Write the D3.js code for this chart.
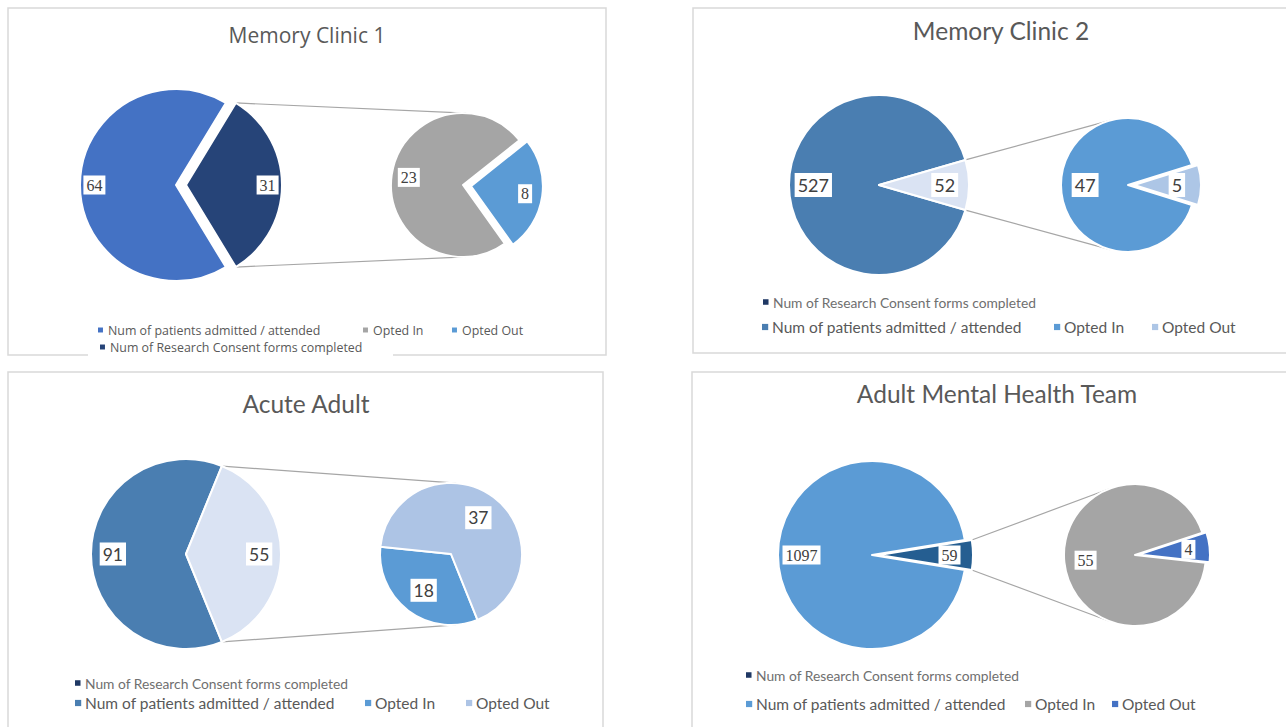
<!DOCTYPE html>
<html>
<head>
<meta charset="utf-8">
<script src="https://cdn.jsdelivr.net/npm/d3@7"></script>
<style>
  body { margin: 0; background: #fff; }
</style>
</head>
<body>
<script>
// chart data
var titles = ["Memory Clinic 1", "Memory Clinic 2", "Acute Adult", "Adult Mental Health Team"];
var mainNames = ["Num of patients admitted / attended", "Num of Research Consent forms completed"];
var subNames = ["Opted In", "Opted Out"];

var clinic1Main = [64, 31],   clinic1Sub = [23, 8];
var clinic2Main = [527, 52],  clinic2Sub = [47, 5];
var acuteMain = [91, 55],     acuteSub = [18, 37];
var amhtMain = [1097, 59],    amhtSub = [55, 4];

// layout / style per panel
var panels = [
  { title: titles[0], main: clinic1Main, sub: clinic1Sub,
    box: [8, 8, 598, 347], titleX: 307, titleY: 35, titleSize: 21, titleFont: "Open Sans",
    mainC: [176, 185], mainR: 96, mainExplode: 10,
    subC: [463, 185], subR: 72, subFocus: 1, subAngle: 98, subExplode: 8,
    mainColors: ["#4472c4", "#264478"], subColors: ["#a5a5a5", "#5b9bd5"], consentColor: "#264478",
    labelFont: "Liberation Serif", labelSize: 16, labelFrac: [0.85, 0.76],
    legendFont: "Open Sans", legendGap: 10, cover: [88, 339, 305, 22],
    legend: [["admitted", 98, 330, 12.4], ["in", 363, 330, 12.4], ["out", 452, 330, 12.4], ["consent", 100, 347, 12.4]] },
  { title: titles[1], main: clinic2Main, sub: clinic2Sub,
    box: [693, 8, 620, 345], titleX: 1001, titleY: 30, titleSize: 24.5, titleFont: "Lato",
    mainC: [879, 185], mainR: 90, mainExplode: 0,
    subC: [1128, 185], subR: 67, subFocus: 1, subAngle: 90, subExplode: 6,
    mainColors: ["#4a7eb1", "#dae3f3"], subColors: ["#5b9bd5", "#adc6e6"], consentColor: "#1f3864",
    labelFont: "Lato", labelSize: 18, labelFrac: [0.73, 0.64],
    legendFont: "Lato", legendGap: 10,
    legend: [["consent", 763, 302, 13.8], ["admitted", 762, 327, 15.5], ["in", 1054, 327, 15.5], ["out", 1152, 327, 15.5]] },
  { title: titles[2], main: acuteMain, sub: acuteSub,
    box: [8, 372, 595, 400], titleX: 306, titleY: 403, titleSize: 24.5, titleFont: "Lato",
    mainC: [186, 554], mainR: 95, mainExplode: 0,
    subC: [451, 554], subR: 71, subFocus: 0, subAngle: 217, subExplode: 0,
    mainColors: ["#4a7eb1", "#dae3f3"], subColors: ["#5b9bd5", "#adc4e5"], consentColor: "#1f3864",
    labelFont: "Lato", labelSize: 17.5, labelFrac: [0.77, 0.64],
    legendFont: "Lato", legendGap: 10,
    legend: [["consent", 75, 683, 13.8], ["admitted", 75, 703, 15.5], ["in", 365, 703, 15.5], ["out", 466, 703, 15.5]] },
  { title: titles[3], main: amhtMain, sub: amhtSub,
    box: [692, 372, 620, 400], titleX: 997, titleY: 393, titleSize: 24.5, titleFont: "Lato",
    mainC: [872, 555], mainR: 94, mainExplode: 7,
    subC: [1135, 555], subR: 71, subFocus: 1, subAngle: 84, subExplode: 4,
    mainColors: ["#5b9bd5", "#255e91"], subColors: ["#a5a5a5", "#4472c4"], consentColor: "#1f3864",
    labelFont: "Liberation Serif", labelSize: 16, labelFrac: [0.75, 0.7],
    legendFont: "Lato", legendGap: 10,
    legend: [["consent", 746, 675, 13.8], ["admitted", 746, 704, 15.5], ["in", 1025, 704, 15.5], ["out", 1112, 704, 15.5]] }
];

var svg = d3.select("body").append("svg")
    .attr("width", 1286)
    .attr("height", 727);

// pie laid out so that slice `focus` is centred on angle `deg`
function layoutPie(values, focus, deg) {
  var base = d3.pie().sort(null)(values);
  var mid = (base[focus].startAngle + base[focus].endAngle) / 2;
  var shift = deg * Math.PI / 180 - mid;
  return d3.pie().sort(null).startAngle(shift).endAngle(shift + 2 * Math.PI)(values);
}

function offsetOf(d, amount) {
  var m = (d.startAngle + d.endAngle) / 2;
  return [amount * Math.sin(m), -amount * Math.cos(m)];
}

function tangent(p, c, r, upper) {
  var vx = p[0] - c[0], vy = p[1] - c[1];
  var d = Math.sqrt(vx * vx + vy * vy);
  var b = Math.atan2(vy, vx), a = Math.acos(r / d);
  var t = upper ? b + a : b - a;
  return [c[0] + r * Math.cos(t), c[1] + r * Math.sin(t)];
}

panels.forEach(function(p) {
  var g = svg.append("g");

  g.append("rect")
    .attr("x", p.box[0]).attr("y", p.box[1])
    .attr("width", p.box[2]).attr("height", p.box[3])
    .attr("fill", "#fff")
    .attr("stroke", "#d9d9d9")
    .attr("stroke-width", 1.5);

  g.append("text")
    .text(p.title)
    .attr("x", p.titleX).attr("y", p.titleY)
    .attr("text-anchor", "middle")
    .attr("dominant-baseline", "central")
    .attr("font-family", p.titleFont)
    .attr("font-size", p.titleSize + "px")
    .attr("fill", "#595959");

  var mainArcs = layoutPie(p.main, 1, 90);
  var subArcs = layoutPie(p.sub, p.subFocus, p.subAngle);

  // series lines from the exploded slice to the secondary pie
  var ms = mainArcs[1];
  var mo = offsetOf(ms, p.mainExplode);
  var top = [p.mainC[0] + mo[0] + p.mainR * Math.sin(ms.startAngle), p.mainC[1] + mo[1] - p.mainR * Math.cos(ms.startAngle)];
  var bot = [p.mainC[0] + mo[0] + p.mainR * Math.sin(ms.endAngle), p.mainC[1] + mo[1] - p.mainR * Math.cos(ms.endAngle)];
  [[top, tangent(top, p.subC, p.subR, true)], [bot, tangent(bot, p.subC, p.subR, false)]].forEach(function(l) {
    g.append("line")
      .attr("x1", l[0][0]).attr("y1", l[0][1])
      .attr("x2", l[1][0]).attr("y2", l[1][1])
      .attr("stroke", "#a6a6a6")
      .attr("stroke-width", 1.2);
  });

  function drawPie(arcs, c, r, colors, explodeIdx, explode, frac) {
    var arc = d3.arc().innerRadius(0).outerRadius(r);
    var labelArc = d3.arc().innerRadius(r * frac).outerRadius(r * frac);
    var pg = g.append("g").attr("transform", "translate(" + c[0] + "," + c[1] + ")");
    var sl = pg.selectAll("g.slice").data(arcs).enter().append("g")
      .attr("class", "slice")
      .attr("transform", function(d, i) {
        var o = i === explodeIdx ? offsetOf(d, explode) : [0, 0];
        return "translate(" + o[0] + "," + o[1] + ")";
      });
    sl.append("path")
      .attr("d", arc)
      .attr("fill", function(d, i) { return colors[i]; })
      .attr("stroke", "#fff")
      .attr("stroke-width", 2)
      .attr("stroke-linejoin", "round");
    sl.each(function(d) {
      var s = d3.select(this);
      var pos = labelArc.centroid(d);
      var t = s.append("text")
        .text(d.data)
        .attr("x", pos[0]).attr("y", pos[1])
        .attr("text-anchor", "middle")
        .attr("dominant-baseline", "central")
        .attr("font-family", p.labelFont)
        .attr("font-size", p.labelSize + "px")
        .attr("fill", "#404040");
      var bb = t.node().getBBox();
      s.insert("rect", "text")
        .attr("x", bb.x - 3).attr("y", bb.y - 1)
        .attr("width", bb.width + 6).attr("height", bb.height + 2)
        .attr("fill", "#fff");
    });
  }

  drawPie(mainArcs, p.mainC, p.mainR, p.mainColors, 1, p.mainExplode, p.labelFrac[0]);
  drawPie(subArcs, p.subC, p.subR, p.subColors, p.subFocus, p.subExplode, p.labelFrac[1]);

  // legend
  if (p.cover) {
    g.append("rect")
      .attr("x", p.cover[0]).attr("y", p.cover[1])
      .attr("width", p.cover[2]).attr("height", p.cover[3])
      .attr("fill", "#fff");
  }
  var legendInfo = {
    admitted: [mainNames[0], p.mainColors[0]],
    consent: [mainNames[1], p.consentColor],
    "in": [subNames[0], p.subColors[0]],
    out: [subNames[1], p.subColors[1]]
  };
  p.legend.forEach(function(item) {
    var info = legendInfo[item[0]];
    var ms2 = item[3] * 0.4;
    g.append("rect")
      .attr("x", item[1]).attr("y", item[2] - ms2 / 2)
      .attr("width", ms2).attr("height", ms2)
      .attr("fill", info[1]);
    g.append("text")
      .text(info[0])
      .attr("x", item[1] + p.legendGap).attr("y", item[2])
      .attr("dominant-baseline", "central")
      .attr("font-family", p.legendFont)
      .attr("font-size", item[3] + "px")
      .attr("fill", item[0] === "consent" && p.cover === undefined ? "#6f6f6f" : "#595959");
  });
});
</script>
</body>
</html>
